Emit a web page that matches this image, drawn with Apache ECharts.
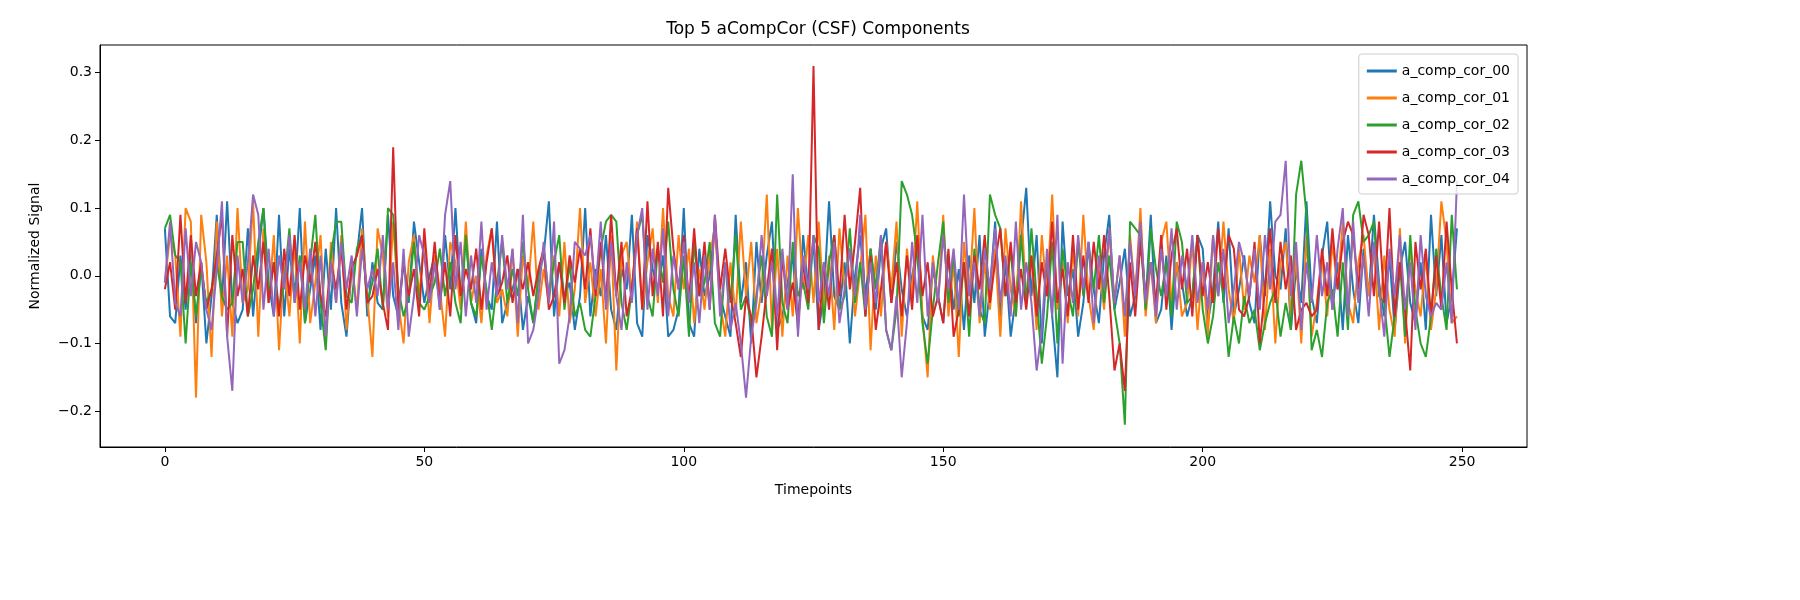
<!DOCTYPE html>
<html>
<head>
<meta charset="utf-8">
<script src="https://cdn.jsdelivr.net/npm/echarts@6/dist/echarts.min.js"></script>
<style>html,body{margin:0;background:#fff}#chart{width:1800px;height:600px}</style>
</head>
<body>
<div id="chart"></div>
<script>
// values in units of 0.01
var seriesNames = ['a_comp_cor_00', 'a_comp_cor_01', 'a_comp_cor_02', 'a_comp_cor_03', 'a_comp_cor_04'];
var colors = ['#1f77b4', '#ff7f0e', '#2ca02c', '#d62728', '#9467bd'];
var xTicks = [0, 50, 100, 150, 200, 250];
var yTicks = [-0.2, -0.1, 0, 0.1, 0.2, 0.3];

var comp00 = [7,-6,-7,3,-5,4,-7,2,-10,-3,9,-4,11,-4,-7,-5,7,-6,3,10,-1,-6,9,-6,4,
-3,10,-7,-2,3,-8,4,-5,10,-4,-9,1,3,10,-6,2,-4,-5,9,-3,-6,2,-4,8,2,
-4,0,3,-5,6,-2,10,-3,6,-4,-7,4,-3,-5,8,-7,-4,-2,1,-8,-3,-7,0,3,11,
-6,2,-3,-1,-8,-3,10,-6,1,-3,6,-5,-8,1,-2,9,-7,-9,6,1,-2,3,-9,-8,-5,
10,-7,-9,4,-3,0,8,-3,-6,-9,9,-4,2,-10,5,-4,3,8,-8,-6,-1,3,-8,6,-2,
5,-8,-3,11,-3,-5,2,-10,0,6,-3,4,-5,4,7,-4,5,-2,-6,0,4,-6,-8,1,-3,
-7,3,-5,1,-8,3,-4,6,-9,-2,8,-6,2,-9,-3,5,13,-3,6,-10,2,-6,-15,8,-3,
1,-9,-4,5,-2,-7,3,9,-5,-1,4,-6,-3,7,-4,9,-7,-5,3,-8,2,-1,-6,-3,6,
4,-7,-2,8,-4,7,-6,-2,3,-4,-7,6,-3,11,0,-2,7,-8,1,-4,11,-3,-7,3,8,
-5,2,-8,6,-2,-7,4,-3,9,-1,-6,3,-8,1,5,-4,-7,2,-8,9,-3,6,-7,-3,7];

var comp01 = [-1,6,3,-9,10,8,-18,9,2,-12,8,-6,3,-9,10,-4,-2,11,-9,7,-4,6,-11,2,-6,
5,-10,8,-7,-1,6,-10,5,-4,6,-8,2,-5,7,-3,-12,7,3,-6,8,-4,-10,2,6,-3,
5,-7,3,-2,-9,5,2,-5,8,-4,0,-7,3,7,-4,-2,-6,4,-9,3,-2,8,-5,1,-4,
3,-6,5,-7,-2,10,-4,2,-6,1,-10,6,-14,3,5,-3,8,-5,2,7,-4,10,-3,-6,6,
-2,4,-7,1,-5,3,7,-4,-9,2,-6,8,-3,5,-7,-2,12,-8,4,-9,3,-6,10,-2,6,
-4,8,-5,3,-8,7,-2,4,-6,1,9,-11,3,-6,5,-2,8,-9,4,-3,11,-6,-15,3,-4,
9,-6,2,-12,5,-3,10,-7,2,-5,4,-9,7,-2,-6,11,-4,3,-8,6,-3,12,-5,2,-7,
4,-6,9,-3,-8,2,-5,7,-4,3,-9,6,-3,10,-6,2,-7,5,8,-4,2,-6,-4,5,-8,
2,-9,6,-3,8,-2,-7,4,-5,3,-1,6,-8,4,-10,2,5,-6,3,-10,6,-9,-4,3,-6,
5,-2,8,-4,-7,2,6,-3,4,-8,3,-5,-9,7,-10,4,-2,-6,3,-8,-2,11,5,-7,-6];

var comp02 = [7,9,3,2,-10,2,-6,1,-4,-2,2,-3,-5,-4,5,5,-6,-2,5,10,-3,2,-5,-1,7,
-4,3,-7,2,9,-4,-11,3,8,8,-3,-4,4,6,-4,-1,4,-5,10,9,-2,-6,-3,5,-4,
-5,-3,-1,4,-3,2,-4,-7,6,-4,-6,3,-2,-8,-1,5,-4,1,-3,5,-2,-7,0,4,-3,
2,6,-5,2,-6,-4,-8,-9,-3,4,8,9,8,-4,-8,-2,6,9,-3,-6,4,-1,8,-2,-6,
3,-9,5,-3,-1,5,-7,-9,2,-4,6,-5,-3,-7,-3,3,-6,-9,12,-4,-7,5,-3,-1,-5,
6,4,-7,2,6,-5,-3,7,-4,2,-6,4,-2,6,-8,-11,-5,14,12,9,3,-7,-13,-5,2,
8,-4,3,-6,2,-9,4,-5,-7,12,9,7,-3,4,-6,6,-4,7,-3,-13,-6,5,-10,4,-2,
-6,5,-3,4,-2,6,-4,3,-5,-10,-22,8,7,6,-5,7,1,-3,2,-6,8,5,-4,-3,6,
-5,-10,-6,2,-3,-12,-6,-10,-3,-7,-5,-11,-7,-4,-2,-9,-4,-8,12,17,9,-11,-8,-12,-4,
-2,-9,2,-8,9,11,5,6,8,-3,-4,-12,-6,2,-9,6,-5,-10,-12,-6,4,-3,-8,9,-2];

var comp03 = [-2,2,-5,9,-4,6,-3,2,-5,-2,3,9,-9,6,-3,1,-6,3,-2,5,-4,2,-6,4,-3,
6,-5,3,-1,5,-3,-6,2,-2,4,-5,1,3,6,-4,-3,1,-4,-8,19,-5,2,-3,1,-6,
7,-3,5,-4,2,-6,6,-3,1,-2,4,-5,2,7,-3,-1,3,-4,1,-2,2,-3,1,4,-5,
-3,2,-4,3,-1,4,-2,7,-3,5,-4,9,-3,5,-6,-2,7,-5,11,-3,5,-6,13,4,-2,
6,-4,7,-3,5,-5,9,-2,4,-3,-7,-12,-3,-6,-15,-9,-2,4,-11,3,-5,-1,-7,2,-4,
31,-8,2,-5,6,-3,9,-2,5,13,-6,3,-8,-2,5,-4,2,-6,3,-5,6,-3,2,-6,-3,
-7,4,-9,-5,2,-6,3,-2,6,-4,2,7,-3,5,-4,1,-5,3,-6,2,-3,8,-4,1,-6,
6,-5,3,-4,5,-2,6,-3,-14,-10,-17,2,-6,5,-3,2,-4,6,-5,3,7,-2,4,-6,6,
-3,2,-4,7,-2,6,4,-5,-6,-3,5,-10,-2,7,-4,5,-2,3,-8,-5,-4,-6,-5,4,-3,
7,-2,5,8,6,-2,9,6,-3,8,-4,10,-6,2,-5,-14,5,-2,4,-6,3,-5,8,-2,-10];

var comp04 = [-1,8,-4,-6,7,-3,5,2,-5,-8,1,11,-9,-17,3,-4,2,12,9,-5,4,-6,3,-2,6,
-4,2,-5,4,-6,3,-9,2,-4,5,-2,3,-6,4,-2,1,-3,6,-5,2,-8,4,-9,-3,6,
3,-4,2,-5,9,14,-2,5,-6,3,-4,8,-5,2,-3,6,-2,4,-7,9,-10,-8,-3,5,-4,
8,-13,-11,-6,5,4,3,6,-2,8,-5,5,-3,-8,2,-4,6,10,-5,4,-3,7,-6,3,-2,
5,-4,2,-7,3,-5,9,-6,2,-8,-4,-10,-18,-9,-4,6,-3,2,-6,4,-5,15,-9,3,-2,
6,-4,2,-3,5,-7,-2,4,-3,9,-5,2,-4,6,-8,-11,-3,-15,-7,5,-4,9,-6,2,-4,
6,-2,4,-5,12,-3,2,-6,4,-2,7,-4,3,-6,8,-5,2,-4,-14,-8,4,-6,9,-13,2,
-4,6,-2,5,-7,3,-2,7,-4,3,-6,5,-3,8,-4,2,-6,4,-3,7,-5,3,-2,6,-4,
2,-5,6,-3,4,-7,-2,5,2,-3,4,-5,6,-2,8,9,17,-3,5,-8,2,-4,6,-3,2,
-5,4,10,-6,8,-4,3,-6,5,-2,-9,4,-3,6,-5,2,-8,6,-3,-6,-4,-5,2,-7,14];

var allComps = [comp00, comp01, comp02, comp03, comp04];

var chart = echarts.init(document.getElementById('chart'));
var font = 'DejaVu Sans';

var series = allComps.map(function (arr, k) {
    return {
        name: seriesNames[k],
        type: 'line',
        showSymbol: false,
        animation: false,
        lineStyle: { width: 2, color: colors[k] },
        itemStyle: { color: colors[k] },
        data: arr.map(function (v, i) { return [i, v / 100]; })
    };
});

chart.setOption({
    textStyle: { fontFamily: font },
    title: {
        text: 'Top 5 aCompCor (CSF) Components',
        left: 813, top: 16, textAlign: 'center',
        textStyle: { fontSize: 17, fontWeight: 'normal', color: '#000', fontFamily: font }
    },
    legend: {
        orient: 'vertical', right: 282, top: 54,
        icon: 'path://M0,0 L30,0 L30,3 L0,3 Z',
        itemWidth: 30, itemHeight: 3, itemGap: 13,
        padding: [10, 8, 8, 8],
        borderColor: '#ccc', borderWidth: 1, borderRadius: 3,
        backgroundColor: 'rgba(255,255,255,0.8)',
        textStyle: { fontSize: 14, color: '#000', fontFamily: font },
        data: seriesNames
    },
    grid: { left: 100, right: 273, top: 45, bottom: 153, show: true, borderColor: '#000', borderWidth: 1 },
    xAxis: {
        type: 'value', min: -12.5, max: 262.5,
        name: 'Timepoints', nameLocation: 'middle', nameGap: 36,
        nameTextStyle: { fontSize: 14, color: '#000' },
        axisLine: { show: true, onZero: false, lineStyle: { color: '#000' } },
        axisTick: { show: true, customValues: xTicks, length: 5, lineStyle: { color: '#000' } },
        axisLabel: { customValues: xTicks, fontSize: 14, color: '#000', margin: 8 },
        splitLine: { show: false }
    },
    yAxis: {
        type: 'value', min: -0.253, max: 0.341,
        name: 'Normalized Signal', nameLocation: 'middle', nameGap: 58,
        nameTextStyle: { fontSize: 14, color: '#000' },
        axisLine: { show: true, onZero: false, lineStyle: { color: '#000' } },
        axisTick: { show: true, customValues: yTicks, length: 5, lineStyle: { color: '#000' } },
        axisLabel: { customValues: yTicks, fontSize: 14, color: '#000', margin: 8,
            formatter: function (v) { return (v < 0 ? '\u2212' : '') + Math.abs(v).toFixed(1); } },
        splitLine: { show: false }
    },
    series: series
});
</script>
</body>
</html>
